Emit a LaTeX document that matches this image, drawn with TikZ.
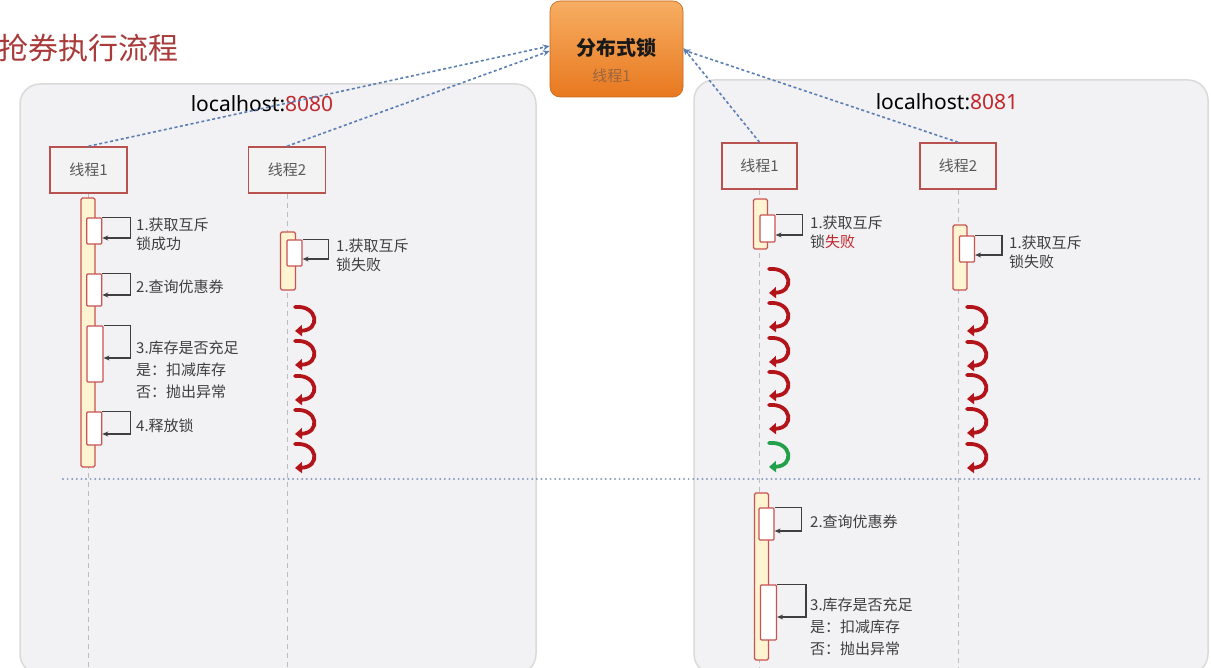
\documentclass[tikz,border=0pt]{standalone}
\usepackage{fontspec}
\setmainfont{Noto Sans CJK SC}
\newfontfamily\latf{Noto Sans}
\usetikzlibrary{arrows.meta}
\definecolor{titlered}{HTML}{A93A3A}
\definecolor{panelfill}{HTML}{F2F1F3}
\definecolor{paneldraw}{HTML}{DADADA}
\definecolor{boxdraw}{HTML}{B9524F}
\definecolor{boxfill}{HTML}{F4F3F4}
\definecolor{bardraw}{HTML}{C9534F}
\definecolor{barfill}{HTML}{FFF4D2}
\definecolor{lifegray}{HTML}{BDBDBD}
\definecolor{linkblue}{HTML}{5B7FB5}
\definecolor{dotblue}{HTML}{8A9CC0}
\definecolor{curlred}{HTML}{B3141A}
\definecolor{curlgreen}{HTML}{23A04A}
\definecolor{labelgray}{HTML}{3F3F3F}
\definecolor{numred}{HTML}{C0282D}
\definecolor{lockhi}{HTML}{F7AE62}
\definecolor{locklo}{HTML}{E8781F}
\definecolor{locksub}{HTML}{9A6540}
\tikzset{
  panel/.style={fill=panelfill, draw=paneldraw, line width=1.5pt, rounded corners=20pt},
  threadbox/.style={draw=boxdraw, fill=boxfill, line width=1.5pt, minimum height=46pt, inner sep=0pt, text=black!65, font=\fontsize{15}{18}\selectfont},
  lifeline/.style={draw=lifegray, line width=1pt, dash pattern=on 5pt off 4pt},
  actbar/.style={draw=bardraw, fill=barfill, line width=1.2pt, rounded corners=1.5pt, inner sep=0pt},
  subbox/.style={draw=bardraw, fill=white, line width=1.2pt, rounded corners=1pt, inner sep=0pt},
  selfarrow/.style={draw=labelgray, line width=1.3pt, -{Stealth[length=6pt,width=5pt]}},
  lbl/.style={anchor=west, inner sep=0pt, align=left, text=labelgray, font=\fontsize{15}{19}\selectfont},
  lblthree/.style={anchor=west, inner sep=0pt, align=left, text=labelgray, font=\fontsize{15}{22}\selectfont},
  link/.style={draw=linkblue, line width=1.6pt, dash pattern=on 3pt off 2.5pt, -{Stealth[length=7pt,width=6pt]}},
  curlyline/.style={line width=3.8pt, line cap=round, -{Triangle[length=7pt,width=11pt]}},
  curly/.pic={\draw[curlyline] (2,0) .. controls (25,-2) and (28,23) .. (2,24);},
  hosttext/.style={inner sep=0pt, font=\latf\fontsize{21}{24}\selectfont}
}
\begin{document}
\begin{tikzpicture}[x=1pt,y=-1pt]
\useasboundingbox[fill=white] (0,0) rectangle (1211,668);

% title
\node[anchor=west, inner sep=0pt, text=titlered, font=\fontsize{30}{33}\selectfont] (title) at (-2,48) {抢券执行流程};

% panels
\draw[panel] (20,84) rectangle (536,674);
\draw[panel] (694,80) rectangle (1208,674);

\node[hosttext] (host1) at (262,104) {localhost:\textcolor{numred}{8080}};
\node[hosttext] (host2) at (947,102) {localhost:\textcolor{numred}{8081}};

% lock
\node[draw=locklo!85!black, line width=0.6pt, top color=lockhi, bottom color=locklo, rounded corners=10pt, minimum width=133pt, minimum height=96pt, inner sep=0pt] (lock) at (616.5,49) {};
\node[inner sep=0pt, font=\fontsize{20}{24}\selectfont\bfseries, text=black!90] (locktitle) at (616,48) {分布式锁};
\node[inner sep=0pt, font=\fontsize{15}{17}\selectfont, text=locksub] (locksubt) at (611.5,76) {线程1};

% thread boxes
\node[threadbox, minimum width=77pt] (L1) at (88.5,170) {线程1};
\node[threadbox, minimum width=77pt] (L2) at (287,170) {线程2};
\node[threadbox, minimum width=75pt] (R1) at (759.5,166) {线程1};
\node[threadbox, minimum width=76pt] (R2) at (958,166) {线程2};

% lifelines
\coordinate (L1end) at (88.5,668);
\coordinate (L2end) at (287,668);
\coordinate (R1end) at (759.5,668);
\coordinate (R2end) at (958,668);
\draw[lifeline] (L1.south) -- (L1end);
\draw[lifeline] (L2.south) -- (L2end);
\draw[lifeline] (R1.south) -- (R1end);
\draw[lifeline] (R2.south) -- (R2end);

% links to lock
\draw[link] (L1.north) -- ([yshift=3pt]lock.west);
\draw[link] (L2.north) -- ([yshift=-2pt]lock.west);
\draw[link] (R1.north) -- ([yshift=1pt]lock.east);
\draw[link] (R2.north) -- ([yshift=-1pt]lock.east);

% separator
\coordinate (sepL) at (63,479);
\coordinate (sepR) at (1200,479);
\draw[dotblue, line width=2.2pt, line cap=round, dash pattern=on 0pt off 4.6pt] (sepL) -- (sepR);

% ---- left thread 1
\node[actbar, minimum width=14pt, minimum height=269pt] (L1bar) at (88,332.5) {};
\node[subbox, minimum width=15pt, minimum height=26pt] (L1a) at (94.2,231) {};
\node[subbox, minimum width=15pt, minimum height=32pt] (L1b) at (94.2,290) {};
\node[subbox, minimum width=16pt, minimum height=56pt] (L1c) at (95,354) {};
\node[subbox, minimum width=15pt, minimum height=33pt] (L1d) at (94.2,428.5) {};
\draw[selfarrow] (L1a.north east) -- ++(28,0) |- (L1a.east |- 0,238);
\draw[selfarrow] (L1b.north east) -- ++(28,0) |- (L1b.east |- 0,295);
\draw[selfarrow] (L1c.north east) -- ++(27,0) |- (L1c.east |- 0,358);
\draw[selfarrow] (L1d.north east) -- ++(28,0) |- (L1d.east |- 0,434);
\node[lbl] (L1at) at (136,234) {1.获取互斥\\锁成功};
\node[lbl] (L1bt) at (136,287) {2.查询优惠券};
\node[lblthree] (L1ct) at (136,370) {3.库存是否充足\\是：扣减库存\\否：抛出异常};
\node[lbl] (L1dt) at (136,426) {4.释放锁};

% ---- left thread 2
\node[actbar, minimum width=15pt, minimum height=58pt] (L2bar) at (288,261) {};
\node[subbox, minimum width=15pt, minimum height=26pt] (L2a) at (294.5,253) {};
\draw[selfarrow] (L2a.north east) -- ++(26,0) |- (L2a.east |- 0,259);
\node[lbl] (L2at) at (336,255) {1.获取互斥\\锁失败};
\pic[color=curlred] at (293,307) {curly};
\pic[color=curlred] at (293,341) {curly};
\pic[color=curlred] at (293,376) {curly};
\pic[color=curlred] at (293,410) {curly};
\pic[color=curlred] at (293,444) {curly};

% ---- right thread 1
\node[actbar, minimum width=14pt, minimum height=50pt] (R1bar) at (760.5,224) {};
\node[subbox, minimum width=15pt, minimum height=27pt] (R1a) at (767.5,228.5) {};
\draw[selfarrow] (R1a.north east) -- ++(27,0) |- (R1a.east |- 0,235);
\node[lbl] (R1at) at (810,232) {1.获取互斥\\锁\textcolor{numred}{失败}};
\pic[color=curlred] at (767,269) {curly};
\pic[color=curlred] at (767,303) {curly};
\pic[color=curlred] at (767,338) {curly};
\pic[color=curlred] at (767,372) {curly};
\pic[color=curlred] at (767,405) {curly};
\pic[color=curlgreen] at (767,443) {curly};

% ---- right thread 2
\node[actbar, minimum width=14pt, minimum height=65pt] (R2bar) at (960,257.5) {};
\node[subbox, minimum width=15pt, minimum height=26pt] (R2a) at (967,249) {};
\draw[selfarrow] (R2a.north east) -- ++(27,0) |- (R2a.east |- 0,255);
\node[lbl] (R2at) at (1009,252) {1.获取互斥\\锁失败};
\pic[color=curlred] at (965,307) {curly};
\pic[color=curlred] at (965,342) {curly};
\pic[color=curlred] at (965,375) {curly};
\pic[color=curlred] at (965,409) {curly};
\pic[color=curlred] at (965,444) {curly};

% ---- right thread 1 after lock
\node[actbar, minimum width=14pt, minimum height=167pt] (R1bar2) at (761.5,576.5) {};
\node[subbox, minimum width=15pt, minimum height=32pt] (R1b) at (766.5,524) {};
\node[subbox, minimum width=16pt, minimum height=55pt] (R1c) at (768.5,612.5) {};
\draw[selfarrow] (R1b.north east) -- ++(27,0) |- (R1b.east |- 0,531);
\draw[selfarrow] (R1c.north east) -- ++(29,0) |- (R1c.east |- 0,617);
\node[lbl] (R1bt) at (810,522) {2.查询优惠券};
\node[lblthree] (R1ct) at (810,627) {3.库存是否充足\\是：扣减库存\\否：抛出异常};
\end{tikzpicture}
\end{document}
